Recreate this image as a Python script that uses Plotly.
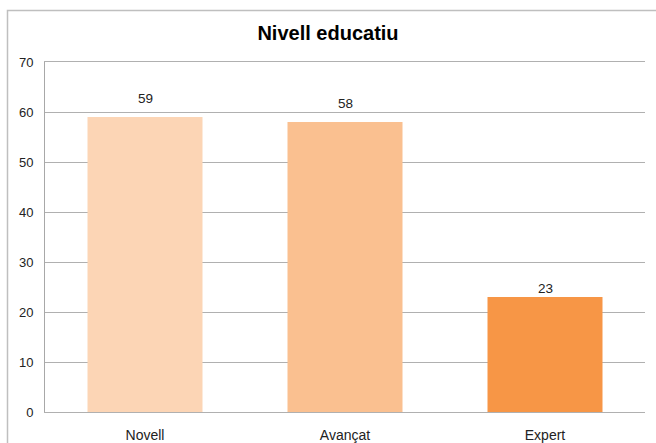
import plotly.graph_objects as go

categories = ["Novell", "Avançat", "Expert"]
values = [59, 58, 23]
colors = ["#FCD5B5", "#FAC090", "#F79646"]
y_ticks = [0, 10, 20, 30, 40, 50, 60, 70]
label_shift_px = [9.5, 9.5, -0.5]

fig = go.Figure()
fig.add_trace(go.Bar(
    x=categories, y=values,
    marker=dict(color=colors, line=dict(width=0)),
    width=0.575,
    cliponaxis=False,
    hoverinfo="skip",
))

for c, v, s in zip(categories, values, label_shift_px):
    fig.add_annotation(x=c, y=v, text=str(v), showarrow=False,
                       yanchor="bottom", yshift=s,
                       font=dict(family="Liberation Sans, Arial", size=13.5, color="#222222"))

fig.update_layout(
    width=656, height=443,
    margin=dict(l=45, r=11, t=62, b=31, autoexpand=False),
    paper_bgcolor="white", plot_bgcolor="white",
    showlegend=False,
    title=dict(text="<b>Nivell educatiu</b>", x=0.5, xanchor="center",
               y=1 - 33 / 443, yanchor="middle",
               font=dict(family="Liberation Sans, Arial", size=20, color="#000000")),
    font=dict(family="Liberation Sans, Arial", size=13, color="#222222"),
    bargap=0.425,
)
fig.update_yaxes(range=[0, 70], tickvals=y_ticks, showgrid=True, gridcolor="#B0B0B0",
                 gridwidth=1, showline=True, linecolor="#A8A8A8", linewidth=1,
                 ticks="", ticklabelstandoff=8, zeroline=False, automargin=False,
                 tickfont=dict(size=13, color="#222222"))
fig.update_xaxes(showline=True, mirror=True, linecolor="#B0B0B0", linewidth=1, ticks="",
                 ticklabelstandoff=10, automargin=False,
                 tickfont=dict(size=14, color="#222222"))

# outer chart frame
fig.add_shape(type="rect", xref="paper", yref="paper",
              x0=(7.5 - 45) / 600, x1=(700 - 45) / 600,
              y0=(412 - 480) / 350, y1=(412 - 10.5) / 350,
              line=dict(color="#BFBFBF", width=1.5), fillcolor="rgba(0,0,0,0)",
              layer="below")

fig.write_html("out.html", config={"displayModeBar": False},
               post_script="document.body.style.margin='0';document.body.style.overflow='hidden';")
